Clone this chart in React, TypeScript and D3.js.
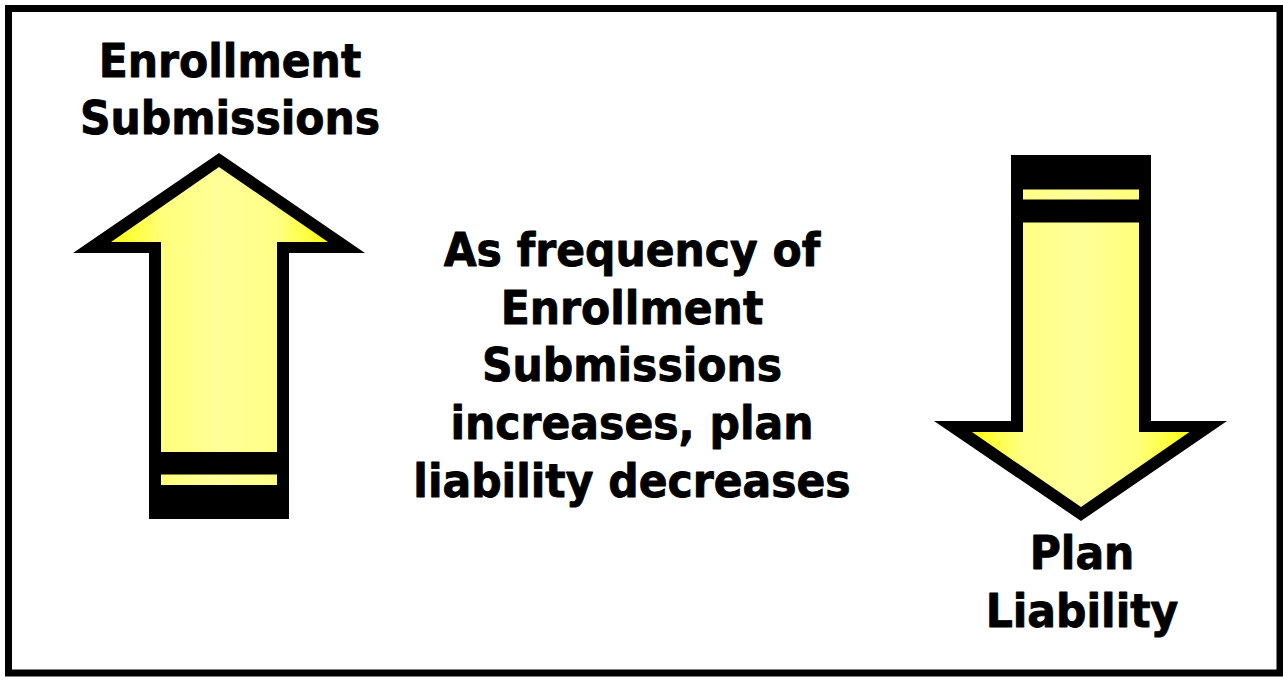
import React from "react";
import * as d3 from "d3";

// ---- content ----
const leftLabel = ["Enrollment", "Submissions"];
const centerLabel = [
  "As frequency of",
  "Enrollment",
  "Submissions",
  "increases, plan",
  "liability decreases",
];
const rightLabel = ["Plan", "Liability"];
const arrowDirections = ["up", "down"];

const W = 1283;
const H = 680;
const FONT = "'DejaVu Sans', Verdana, sans-serif";
const FS = 46.5;
const LH = 57.7;
const SX = 0.915;

type P = [number, number];
const line = d3.line<P>().x((d) => d[0]).y((d) => d[1]).curve(d3.curveLinearClosed);

function TextBlock({ lines, cx, y0 }: { lines: string[]; cx: number; y0: number }) {
  return (
    <g transform={`translate(${cx},0) scale(${SX},1)`}>
      {lines.map((t, i) => (
        <text
          key={i}
          x={0}
          y={y0 + i * LH}
          textAnchor="middle"
          fontFamily={FONT}
          fontWeight="bold"
          fontSize={FS}
          fill="#000"
          stroke="#000"
          strokeWidth={0.9}
          strokeLinejoin="round"
        >
          {t}
        </text>
      ))}
    </g>
  );
}

function UpArrow() {
  const outer: P[] = [
    [219, 153], [365, 253], [289, 253], [289, 519], [149, 519], [149, 253], [73, 253],
  ];
  const inner: P[] = [
    [219, 167], [328, 242], [277, 242], [277, 452], [161, 452], [161, 242], [111, 242],
  ];
  return (
    <g>
      <path d={line(outer) || ""} fill="#000" />
      <path d={line(inner) || ""} fill="url(#gradUp)" />
      <rect x={161} y={474.5} width={116} height={10.5} fill="url(#gradUp)" />
    </g>
  );
}

function DownArrow() {
  const outer: P[] = [
    [1011, 155], [1151, 155], [1151, 421], [1227, 421], [1081, 521], [934, 421], [1011, 421],
  ];
  const inner: P[] = [
    [1023, 222.5], [1139, 222.5], [1139, 432], [1189.5, 432], [1081, 507], [972, 432], [1023, 432],
  ];
  return (
    <g>
      <path d={line(outer) || ""} fill="#000" />
      <path d={line(inner) || ""} fill="url(#gradDown)" />
      <rect x={1023} y={189.5} width={116} height={10} fill="url(#gradDown)" />
    </g>
  );
}

export default function App() {
  return (
    <svg
      width={W}
      height={H}
      viewBox={`0 0 ${W} ${H}`}
      style={{ position: "absolute", left: 0, top: 0, background: "#fff" }}
    >
      <defs>
        <linearGradient id="gradUp" gradientUnits="userSpaceOnUse" x1={111} y1={0} x2={328} y2={0}>
          <stop offset="0%" stopColor="#ffff10" />
          <stop offset="24%" stopColor="#ffff7c" />
          <stop offset="50%" stopColor="#ffff99" />
          <stop offset="76%" stopColor="#ffff86" />
          <stop offset="100%" stopColor="#ffff10" />
        </linearGradient>
        <linearGradient id="gradDown" gradientUnits="userSpaceOnUse" x1={972} y1={0} x2={1190} y2={0}>
          <stop offset="0%" stopColor="#ffff10" />
          <stop offset="24%" stopColor="#ffff86" />
          <stop offset="50%" stopColor="#ffff99" />
          <stop offset="76%" stopColor="#ffff7c" />
          <stop offset="100%" stopColor="#ffff10" />
        </linearGradient>
      </defs>
      <rect x={0} y={0} width={W} height={H} fill="#fff" />
      <rect x={8.5} y={8.5} width={1271.5} height={664.5} fill="none" stroke="#000" strokeWidth={7} />
      {arrowDirections.map((d) => (d === "up" ? <UpArrow key={d} /> : <DownArrow key={d} />))}
      <TextBlock lines={leftLabel} cx={230} y0={76.7} />
      <TextBlock lines={centerLabel} cx={632} y0={266} />
      <TextBlock lines={rightLabel} cx={1082} y0={569} />
    </svg>
  );
}
